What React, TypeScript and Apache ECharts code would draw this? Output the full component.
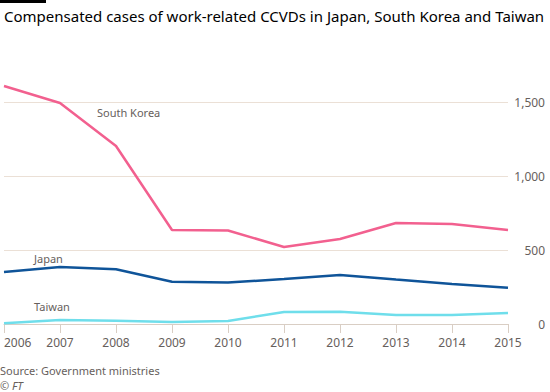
import React, { useEffect, useRef } from "react";
import * as echarts from "echarts";

const years = ["2006", "2007", "2008", "2009", "2010", "2011", "2012", "2013", "2014", "2015"];
const southKorea = [1608, 1493, 1203, 635, 632, 520, 574, 682, 675, 635];
const japan = [351, 385, 370, 285, 280, 304, 331, 300, 270, 245];
const taiwan = [5, 27, 22, 14, 20, 81, 83, 60, 60, 74];
const yTicks = [0, 500, 1000, 1500];

const FONT = "'Noto Sans', 'Open Sans', sans-serif";

export default function App() {
  const ref = useRef<HTMLDivElement>(null);
  useEffect(() => {
    if (!ref.current) return;
    const chart = echarts.init(ref.current, undefined, { renderer: "svg" });
    chart.setOption({
      animation: false,
      backgroundColor: "#ffffff",
      textStyle: { fontFamily: FONT },
      grid: { left: 4, right: 42, top: 102, bottom: 68, containLabel: false },
      xAxis: {
        type: "category",
        data: years,
        boundaryGap: false,
        axisLine: { show: true, lineStyle: { color: "#d9cec4", width: 1 } },
        axisTick: { show: true, alignWithLabel: true, length: 9, lineStyle: { color: "#d9cec4" } },
        axisLabel: {
          color: "#66605c",
          fontSize: 12,
          margin: 12,
          fontFamily: FONT,
          alignMinLabel: "left",
        },
        splitLine: { show: false },
      },
      yAxis: {
        type: "value",
        position: "right",
        min: 0,
        max: 1500,
        interval: 500,
        axisLine: { show: false },
        axisTick: { show: false },
        axisLabel: {
          color: "#66605c",
          fontSize: 12,
          align: "right",
          margin: 37,
          fontFamily: FONT,
          formatter: (v: number) => (yTicks.includes(v) ? v.toLocaleString("en-US") : ""),
        },
        splitLine: { show: true, lineStyle: { color: "#ebe0d6", width: 1 } },
      },
      series: [
        {
          name: "South Korea",
          type: "line",
          data: southKorea,
          symbol: "none",
          clip: false,
          lineStyle: { color: "#f2608f", width: 2.5 },
        },
        {
          name: "Japan",
          type: "line",
          data: japan,
          symbol: "none",
          clip: false,
          lineStyle: { color: "#0f5499", width: 2.5 },
        },
        {
          name: "Taiwan",
          type: "line",
          data: taiwan,
          symbol: "none",
          clip: false,
          lineStyle: { color: "#6fdeeb", width: 2.5 },
        },
      ],
      graphic: [
        { type: "rect", left: 0, top: 0, shape: { width: 46, height: 3 }, style: { fill: "#000000" } },
        {
          type: "text",
          left: 4,
          top: 8,
          style: { text: "Compensated cases of work-related CCVDs in Japan, South Korea and Taiwan", fill: "#000000", font: `15px ${FONT}` },
        },
        { type: "text", left: 97, top: 107, style: { text: "South Korea", fill: "#66605c", font: `11px ${FONT}` } },
        { type: "text", left: 34, top: 253, style: { text: "Japan", fill: "#66605c", font: `11px ${FONT}` } },
        { type: "text", left: 34, top: 301, style: { text: "Taiwan", fill: "#66605c", font: `11px ${FONT}` } },
        { type: "text", left: 0, top: 365, style: { text: "Source: Government ministries", fill: "#66605c", font: `11px ${FONT}` } },
        { type: "text", left: 0, top: 380, style: { text: "© FT", fill: "#66605c", font: `italic 11px ${FONT}` } },
      ],
    });
    return () => chart.dispose();
  }, []);
  return <div ref={ref} style={{ width: 550, height: 392, position: "absolute", left: 0, top: 0 }} />;
}
